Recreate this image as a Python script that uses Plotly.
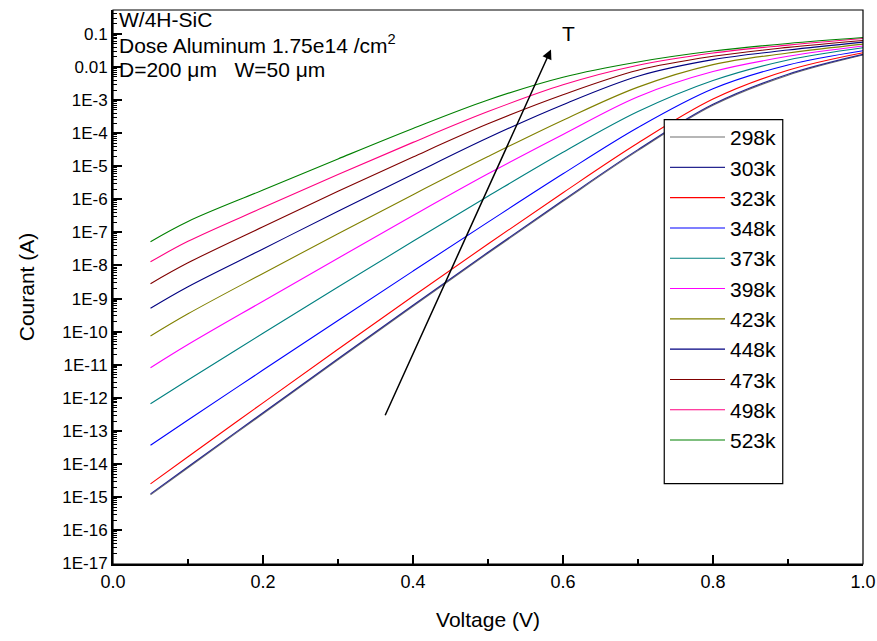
import numpy as np
import plotly.graph_objects as go

# ---------------- data (log10 of current in A) ----------------
voltage = [0.05, 0.1, 0.2, 0.3, 0.4, 0.5, 0.6, 0.7, 0.8, 0.9, 1.0]

temps = ["298k", "303k", "323k", "348k", "373k", "398k", "423k", "448k", "473k", "498k", "523k"]

log_I_298 = [-14.93, -14.11, -12.48, -10.85, -9.23, -7.63, -6.06, -4.53, -3.16, -2.25, -1.64]
log_I_303 = [-14.90, -14.08, -12.45, -10.82, -9.20, -7.60, -6.03, -4.50, -3.13, -2.22, -1.62]
log_I_323 = [-14.60, -13.78, -12.15, -10.53, -8.93, -7.35, -5.80, -4.30, -2.97, -2.10, -1.57]
log_I_348 = [-13.43, -12.67, -11.16, -9.66, -8.17, -6.69, -5.23, -3.83, -2.66, -1.94, -1.51]
log_I_373 = [-12.18, -11.46, -10.05, -8.65, -7.27, -5.91, -4.58, -3.35, -2.41, -1.79, -1.42]
log_I_398 = [-11.09, -10.39, -9.08, -7.78, -6.49, -5.23, -4.04, -2.90, -2.14, -1.68, -1.37]
log_I_423 = [-10.13, -9.46, -8.24, -7.04, -5.86, -4.71, -3.61, -2.61, -1.93, -1.58, -1.31]
log_I_448 = [-9.29, -8.64, -7.50, -6.36, -5.24, -4.14, -3.14, -2.28, -1.78, -1.49, -1.25]
log_I_473 = [-8.55, -7.92, -6.83, -5.76, -4.72, -3.72, -2.84, -2.10, -1.68, -1.41, -1.20]
log_I_498 = [-7.89, -7.27, -6.25, -5.25, -4.28, -3.35, -2.54, -1.95, -1.58, -1.34, -1.14]
log_I_523 = [-7.28, -6.67, -5.72, -4.78, -3.86, -3.00, -2.31, -1.85, -1.52, -1.29, -1.11]

series = [log_I_298, log_I_303, log_I_323, log_I_348, log_I_373, log_I_398,
          log_I_423, log_I_448, log_I_473, log_I_498, log_I_523]

colors = ["#6e6e6e", "#26268f", "#ff0000", "#0000ff", "#008080", "#ff00ff",
          "#808000", "#000080", "#800000", "#ff0080", "#008000"]

ytick_exp = list(range(-17, 0))
ytick_text = ["1E-17", "1E-16", "1E-15", "1E-14", "1E-13", "1E-12", "1E-11", "1E-10",
              "1E-9", "1E-8", "1E-7", "1E-6", "1E-5", "1E-4", "1E-3", "0.01", "0.1"]

FONT = "Liberation Sans, Arial, sans-serif"

fig = go.Figure()
for name, vals, col in zip(temps, series, colors):
    fig.add_trace(go.Scatter(
        x=voltage, y=np.power(10.0, vals), mode="lines", name=name,
        line=dict(color=col, width=1.1, shape="spline", smoothing=1.0),
    ))

fig.update_layout(
    width=877, height=641,
    margin=dict(l=113, r=14, t=10, b=77),
    paper_bgcolor="white", plot_bgcolor="white",
    font=dict(family=FONT, color="black"),
    showlegend=True,
    legend=dict(
        x=0.736, y=0.807, xanchor="left", yanchor="top",
        bgcolor="rgba(0,0,0,0)", borderwidth=0,
        font=dict(size=21, family=FONT), itemwidth=55,
        tracegroupgap=0,
    ),
)

fig.update_xaxes(
    range=[0, 1], showgrid=False, zeroline=False, automargin=False,
    showline=True, linecolor="black", linewidth=2,
    ticks="inside", ticklen=9, tickwidth=1.5, tickcolor="black",
    tickmode="array", tickvals=[0, 0.2, 0.4, 0.6, 0.8, 1.0],
    ticktext=["0.0", "0.2", "0.4", "0.6", "0.8", "1.0"],
    tickfont=dict(size=18, family=FONT),
    minor=dict(ticks="inside", ticklen=5, tickwidth=1.5, tickcolor="black",
               tickvals=[0.1, 0.3, 0.5, 0.7, 0.9]),
    title=dict(text="Voltage (V)", font=dict(size=21, family=FONT), standoff=22),
)

fig.update_yaxes(
    type="log", range=[-17.02, -0.28], showgrid=False, zeroline=False, automargin=False,
    showline=True, linecolor="black", linewidth=2,
    ticks="inside", ticklen=9, tickwidth=1.5, tickcolor="black",
    tickmode="array", tickvals=[10.0 ** e for e in ytick_exp], ticktext=ytick_text,
    tickfont=dict(size=17, family=FONT),
    minor=dict(ticks="inside", ticklen=4, tickwidth=1, tickcolor="black", dtick="D1"),
    title=dict(text="Courant (A)", font=dict(size=21, family=FONT), standoff=22),
)

# frame (top / right)
fig.add_shape(type="rect", xref="paper", yref="paper", x0=0, y0=0, x1=1, y1=1,
              line=dict(color="black", width=1.2), layer="above")
# legend box
fig.add_shape(type="rect", xref="paper", yref="paper",
              x0=0.735, x1=0.893, y0=0.145, y1=0.802,
              line=dict(color="black", width=1.2), fillcolor="white", layer="above")

# annotations
ann_font = dict(size=21, family=FONT, color="black")
fig.add_annotation(x=0.005, y=0.983, xref="paper", yref="paper", xanchor="left", yanchor="middle",
                   text="W/4H-SiC", showarrow=False, font=ann_font)
fig.add_annotation(x=0.005, y=0.938, xref="paper", yref="paper", xanchor="left", yanchor="middle",
                   text="Dose Aluminum 1.75e14 /cm<sup>2</sup>", showarrow=False, font=ann_font)
fig.add_annotation(x=0.005, y=0.893, xref="paper", yref="paper", xanchor="left", yanchor="middle",
                   text="D=200 \u03bcm   W=50 \u03bcm", showarrow=False, font=ann_font)

# temperature arrow
fig.add_annotation(x=0.584, y=-1.47, ax=0.362, ay=-12.57, xref="x", yref="y", axref="x", ayref="y",
                   text="", showarrow=True, arrowhead=2, arrowsize=1.3, arrowwidth=1.5,
                   arrowcolor="black")
fig.add_annotation(x=0.607, y=-0.985, xref="x", yref="y", text="T", showarrow=False,
                   font=dict(size=21, family=FONT, color="black"))

fig.write_html("out.html")
